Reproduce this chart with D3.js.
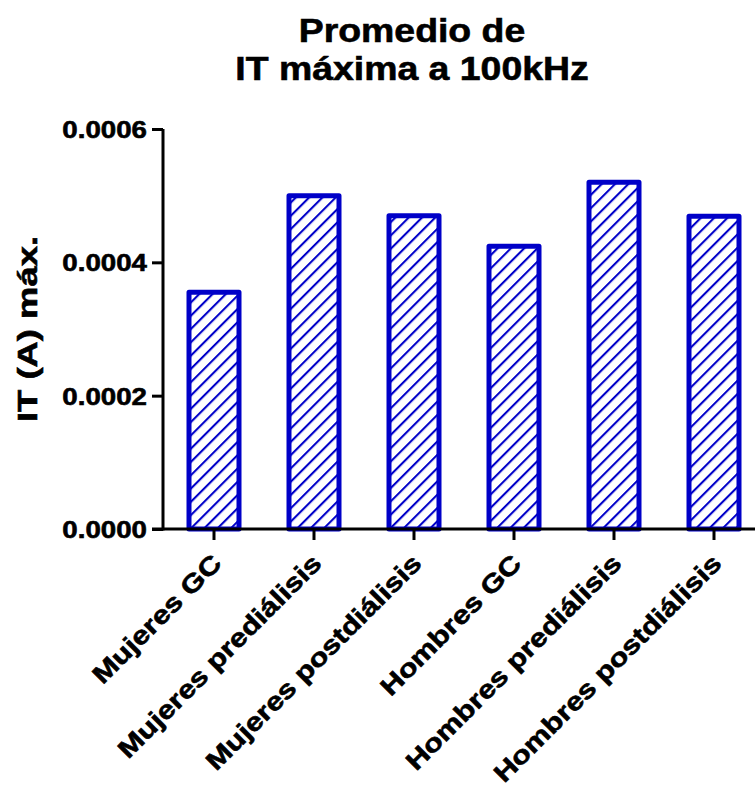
<!DOCTYPE html>
<html>
<head>
<meta charset="utf-8">
<script src="https://cdn.jsdelivr.net/npm/d3@7/dist/d3.min.js"></script>
<style>
  html, body { margin: 0; padding: 0; background: #fff; }
  svg { display: block; }
  text { font-family: "Liberation Sans", Arial, sans-serif; font-weight: bold; fill: #000; stroke: #000; stroke-width: 0.6px; }
</style>
</head>
<body>
<svg id="chart" width="755" height="793"></svg>
<script>
// Mean maximum IT at 100 kHz per group
const categories = [
  "Mujeres GC",
  "Mujeres prediálisis",
  "Mujeres postdiálisis",
  "Hombres GC",
  "Hombres prediálisis",
  "Hombres postdiálisis"
];
const values = [0.000355, 0.000500, 0.000470, 0.000424, 0.000520, 0.000469];
const yTicks = [0, 0.0002, 0.0004, 0.0006];
const titleLines = ["Promedio de", "IT máxima a 100kHz"];
const yTitle = "IT (A) máx.";

const barColor = "#0000C8";
const svg = d3.select("#chart");

// Diagonal hatch fill for the bars
const defs = svg.append("defs");
defs.append("pattern")
  .attr("id", "hatch")
  .attr("patternUnits", "userSpaceOnUse")
  .attr("width", 9.4)
  .attr("height", 9.4)
  .attr("patternTransform", "rotate(45)")
  .append("line")
  .attr("x1", 1).attr("y1", -2)
  .attr("x2", 1).attr("y2", 12)
  .attr("stroke", barColor)
  .attr("stroke-width", 2.2);

const axisX = 163;
const baseY = 529;

const x = d3.scaleBand()
  .domain(categories)
  .range([164, 764])
  .paddingInner(0.5)
  .paddingOuter(0.25);

const y = d3.scaleLinear()
  .domain([0, 0.0006])
  .range([baseY, 129]);

// Bars
svg.append("g")
  .selectAll("rect")
  .data(values)
  .join("rect")
  .attr("x", (d, i) => x(categories[i]))
  .attr("y", d => y(d))
  .attr("width", x.bandwidth())
  .attr("height", d => baseY - y(d))
  .attr("fill", "url(#hatch)")
  .attr("stroke", barColor)
  .attr("stroke-width", 5)
  .attr("stroke-linejoin", "round");

// Y axis
const yAxis = svg.append("g")
  .attr("transform", `translate(${axisX},0)`)
  .call(d3.axisLeft(y).tickValues(yTicks).tickSize(11).tickFormat(d3.format(".4f")));
yAxis.select(".domain").attr("stroke", "#000").attr("stroke-width", 3).attr("d", `M0,${y(0.0006)}V${baseY + 1.5}`);
yAxis.selectAll(".tick line").attr("stroke", "#000").attr("stroke-width", 3);
yAxis.selectAll(".tick text").remove();
yAxis.selectAll(".tick").append("g")
  .attr("transform", "translate(-16,8.5) scale(1.13,1)")
  .append("text")
  .attr("text-anchor", "end")
  .style("font-size", "24.5px")
  .text(d => d3.format(".4f")(d));

// X axis
const xAxis = svg.append("g")
  .attr("transform", `translate(0,${baseY})`)
  .call(d3.axisBottom(x).tickSize(11).tickFormat(""));
xAxis.select(".domain").attr("stroke", "#000").attr("stroke-width", 3).attr("d", `M152,0H755`);
xAxis.selectAll(".tick line").attr("stroke", "#000").attr("stroke-width", 3);
xAxis.selectAll(".tick").append("g")
  .attr("transform", "translate(9,36) rotate(-45) scale(1.2,1)")
  .append("text")
  .attr("text-anchor", "end")
  .style("font-size", "25.5px")
  .text(d => d);

// Y axis title
svg.append("g")
  .attr("transform", "translate(37,329) rotate(-90) scale(1.3,1)")
  .append("text")
  .attr("text-anchor", "middle")
  .style("font-size", "28px")
  .text(yTitle);

// Chart title
const titleBase = [42, 80];
titleLines.forEach((line, i) => {
  svg.append("g")
    .attr("transform", `translate(412,${titleBase[i]}) scale(1.1,1)`)
    .append("text")
    .attr("text-anchor", "middle")
    .style("font-size", "34px")
    .text(line);
});
</script>
</body>
</html>
